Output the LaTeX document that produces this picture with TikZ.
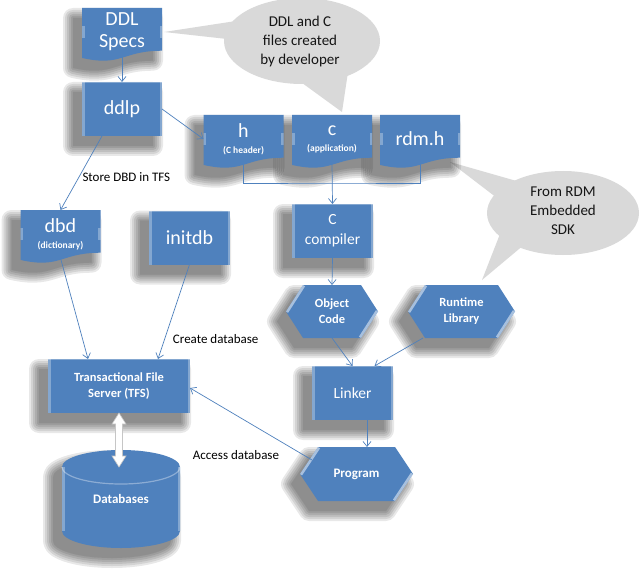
\documentclass[tikz,border=0pt]{standalone}
\usepackage{fontspec}
\setmainfont{Carlito}
\usetikzlibrary{calc,arrows.meta}

\pgfdeclarelayer{background}
\pgfsetlayers{background,main}

\definecolor{boxblue}{HTML}{4F81BD}
\definecolor{linkblue}{HTML}{4F81BD}
\definecolor{bubble}{HTML}{D9D9D9}
\definecolor{calltext}{HTML}{151515}

% font sizes
\newcommand\fsBig{\fontsize{20}{22}\selectfont}
\newcommand\fsMid{\fontsize{15.5}{20}\selectfont}
\newcommand\fsSub{\fontsize{9.5}{11}\selectfont\bfseries}
\newcommand\fsHex{\fontsize{12.5}{16}\selectfont\bfseries}
\newcommand\fsCall{\fontsize{15}{19}\selectfont}
\newcommand\fsLab{\fontsize{13}{15}\selectfont}

\tikzset{
  shapetext/.style={inner sep=0pt, outer sep=0pt, text=white, align=center},
  rectnode/.style={shapetext, minimum width=81pt, minimum height=54pt},
  docnode/.style={shapetext, minimum width=80pt, minimum height=48pt, font=\fsBig},
  hexnode/.style={shapetext, minimum height=53pt, font=\fsHex},
  bubbletext/.style={inner sep=0pt, align=center, text=calltext, font=\fsCall},
  lab/.style={inner sep=0pt, text=black, font=\fsLab},
  conn/.style={draw=linkblue, line width=0.7pt, -{Straight Barb[length=5pt,width=8pt]}},
  plainconn/.style={draw=linkblue, line width=0.7pt},
  bevelline/.style={draw=white, draw opacity=0.3, line width=5pt},
}

% outlines of the box kinds, built from a node's anchors
\newcommand\rectpath[1]{(#1.north west) rectangle (#1.south east)}
\newcommand\docpath[1]{(#1.north west) -- (#1.north east)
  -- ($(#1.north east)!0.89!(#1.south east)$)
  .. controls ($(#1.north)!0.89!(#1.south)$) and ($(#1.north)!1.23!(#1.south)$)
  .. ($(#1.north west)!1.04!(#1.south west)$) -- cycle}
\newcommand\hexpath[2]{(#1.west) -- ([xshift=#2]#1.north west)
  -- ([xshift=-#2]#1.north east) -- (#1.east)
  -- ([xshift=-#2]#1.south east) -- ([xshift=#2]#1.south west) -- cycle}
\newcommand\cylpath[1]{([yshift=-17pt]#1.north west) -- ([yshift=17pt]#1.south west)
    arc[start angle=180, end angle=360, x radius=59pt, y radius=17pt]
    -- ([yshift=-17pt]#1.north east)
    arc[start angle=0, end angle=180, x radius=59pt, y radius=17pt] -- cycle}

% soft shadow cast down and to the left: widening translucent copies
\newcommand\castshadow[1]{%
  \begin{scope}[transform canvas={shift={(-9pt,-10pt)}}]
    \foreach \w in {20,16,12,8,4,0.1}{%
      \begin{scope}[transparency group, opacity=0.09]
        \filldraw[black, line width=\w pt, line join=round] #1;
      \end{scope}}
  \end{scope}}

\newcommand\drawrect[1]{%
  \fill[boxblue] \rectpath{#1};
  \begin{scope}
    \clip \rectpath{#1};
    \draw[bevelline] (#1.north west) -- (#1.south west) (#1.north east) -- (#1.south east);
    \draw[bevelline, line width=2pt] (#1.north west) -- (#1.north east);
  \end{scope}}
\newcommand\drawdoc[1]{%
  \fill[boxblue] \docpath{#1};
  \begin{scope}
    \clip \docpath{#1};
    \draw[bevelline] ([yshift=-30pt]#1.north west) -- ([yshift=30pt]#1.south west)
      ([yshift=-30pt]#1.north east) -- ([yshift=30pt]#1.south east);
  \end{scope}}
\newcommand\drawhex[2]{%
  \fill[boxblue] \hexpath{#1}{#2};
  \begin{scope}
    \clip \hexpath{#1}{#2};
    \draw[bevelline, draw opacity=0.5] (#1.west) -- ([xshift=#2]#1.north west)
      ([xshift=-#2]#1.south east) -- (#1.east);
  \end{scope}}
\newcommand\drawcyl[1]{%
  \fill[boxblue] \cylpath{#1};
  \begin{scope}
    \clip \cylpath{#1};
    \draw[bevelline] ([yshift=-17pt]#1.north west) -- ([yshift=17pt]#1.south west)
      ([yshift=-17pt]#1.north east) -- ([yshift=17pt]#1.south east);
  \end{scope}
  \draw[white, draw opacity=0.35, line width=1.2pt] ([yshift=-17pt]#1.north west)
    arc[start angle=180, end angle=360, x radius=59pt, y radius=17pt];}

\begin{document}
\begin{tikzpicture}[x=1pt,y=-1pt]
\begin{pgfonlayer}{background}
  \fill[white] (0,0) rectangle (640,575);
\end{pgfonlayer}
\useasboundingbox (0,0) rectangle (640,575);

% ---- boxes ----
\node[docnode] (spec) at (122,32) {DDL\\Specs};
\node[rectnode, minimum width=80pt, font=\fsBig] (ddlp) at (122,109) {ddlp};
\node[docnode] (h) at (243.5,139) {h\\[-6pt]{\fsSub (C header)}};
\node[docnode] (c) at (332,139) {c\\[-6pt]{\fsSub (application)}};
\node[docnode] (rdmh) at (420,139) {rdm.h};
\node[docnode] (dbd) at (60.5,234) {dbd\\[-6pt]{\fsSub (dictionary)}};
\node[rectnode, font=\fsBig] (initdb) at (189.5,237.5) {initdb};
\node[rectnode, font=\fsMid] (ccomp) at (332.5,231) {C\\compiler};
\node[hexnode, minimum width=92pt] (obj) at (332,311.5) {Object\\Code};
\node[hexnode, minimum width=107pt] (rt) at (461.5,311.5) {Runtime\\Library};
\node[rectnode, font=\fsMid] (linker) at (352.5,393) {Linker};
\node[hexnode, minimum width=113pt, minimum height=54pt, font=\fontsize{13}{16}\selectfont\bfseries] (prog) at (356.5,474) {Program};
\node[rectnode, minimum width=142pt, font=\fsHex] (tfs) at (119,386) {Transactional File\\Server (TFS)};
\node[shapetext, minimum width=118pt, minimum height=98pt, font=\fontsize{13}{16}\selectfont\bfseries] (db) at (121,499) {\raisebox{-10pt}{Databases}};

% ---- callout texts ----
\node[bubbletext] (call1) at (300,42) {DDL and C\\files created\\by developer};
\node[bubbletext] (call2) at (563,211) {From RDM\\Embedded\\SDK};

% ---- shapes behind the texts ----
\begin{pgfonlayer}{background}
  \fill[bubble] ([shift={(2,-1)}]call1.center) ellipse [x radius=78pt, y radius=43pt];
  \fill[bubble] (236,21) -- (164,32) -- (236,40) -- cycle;
  \fill[bubble] (298,80) -- (342,112) -- (348,72) -- cycle;
  \fill[bubble] ([shift={(0,2)}]call2.center) ellipse [x radius=76pt, y radius=42pt];
  \fill[bubble] (520,182) -- (450,162) -- (497,198) -- cycle;
  \fill[bubble] (500,234) -- (482,280) -- (525,244) -- cycle;

  \castshadow{\docpath{spec}}
  \castshadow{\rectpath{ddlp}}
  \castshadow{\docpath{h}}
  \castshadow{\docpath{c}}
  \castshadow{\docpath{rdmh}}
  \castshadow{\docpath{dbd}}
  \castshadow{\rectpath{initdb}}
  \castshadow{\rectpath{ccomp}}
  \castshadow{\hexpath{obj}{17pt}}
  \castshadow{\hexpath{rt}{17pt}}
  \castshadow{\rectpath{linker}}
  \castshadow{\hexpath{prog}{18pt}}
  \castshadow{\rectpath{tfs}}
  \castshadow{\cylpath{db}}

  \drawdoc{spec}
  \drawrect{ddlp}
  \drawdoc{h}
  \drawdoc{c}
  \drawdoc{rdmh}
  \drawdoc{dbd}
  \drawrect{initdb}
  \drawrect{ccomp}
  \drawhex{obj}{17pt}
  \drawhex{rt}{17pt}
  \drawrect{linker}
  \drawhex{prog}{18pt}
  \drawrect{tfs}
  \drawcyl{db}
\end{pgfonlayer}

% ---- connectors ----
\coordinate (merge) at (332,183);
\draw[conn] (spec.south) -- (ddlp.north);
\draw[conn] (ddlp.east) -- (h.west);
\draw[plainconn] (h.south) |- (merge) -| (rdmh.south);
\draw[conn] (c.south) -- (ccomp.north);
\draw[conn] (ccomp.south) -- (obj.north);
\draw[conn] (obj.south) -- (linker.north);
\draw[conn] ([xshift=15pt]rt.south west) -- ([xshift=22pt]linker.north);
\draw[conn] ([xshift=14.5pt]linker.south) -- ([xshift=14.5pt]linker.south |- prog.north);
\draw[conn] ([xshift=20pt]ddlp.south west) -- node[lab, pos=0.55, anchor=west, xshift=3pt] (lstore) {Store DBD in TFS} (dbd.north);
\draw[conn] (dbd.south) -- ([xshift=40pt]tfs.north west);
\draw[conn] (initdb.south) -- node[lab, pos=0.79, anchor=west, xshift=8pt] (lcreate) {Create database} ([xshift=110pt]tfs.north west);
\draw[conn] ([xshift=12pt,yshift=14pt]prog.west) -- node[lab, pos=0.623, yshift=-40pt] (laccess) {Access database} ([yshift=-2pt]tfs.east);

% two-way link between the file server and the databases
\filldraw[fill=white, draw=gray!45, line width=0.6pt] (tfs.south) -- ++(7,11) -- ++(-3.5,0)
  -- ++(0,32) -- ++(3.5,0) -- ++(-7,11) -- ++(-7,-11) -- ++(3.5,0) -- ++(0,-32)
  -- ++(-3.5,0) -- cycle;
\end{tikzpicture}
\end{document}
